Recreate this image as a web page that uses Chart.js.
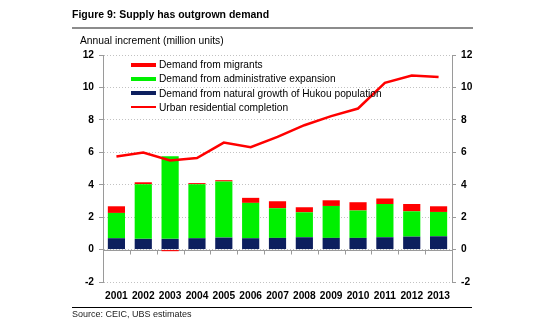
<!DOCTYPE html>
<html>
<head>
<meta charset="utf-8">
<script src="https://cdn.jsdelivr.net/npm/chart.js@4.4.1/dist/chart.umd.min.js"></script>
<style>
    html, body { margin: 0; padding: 0; background: #fff; }
    #figura { position: relative; width: 550px; height: 325px; overflow: hidden; font-family: "Liberation Sans", Arial, sans-serif; color: #000; }
    #figura canvas { position: absolute; left: 0; top: 0; }
    .titulo { position: absolute; left: 72px; top: 8px; font-size: 10.5px; line-height: 12px; font-weight: bold; white-space: nowrap; }
    .regua-topo { position: absolute; left: 72px; top: 27px; width: 401px; height: 2px; background: #8c8c8c; }
    .unidade { position: absolute; left: 80px; top: 34.5px; font-size: 10.3px; line-height: 12px; white-space: nowrap; }
    .regua-base { position: absolute; left: 72px; top: 307px; width: 400px; height: 1px; background: #000; }
    .fonte { position: absolute; left: 72px; top: 309px; font-family: "Liberation Sans Narrow", "Liberation Sans", sans-serif; font-size: 9px; line-height: 10px; color: #222; white-space: nowrap; }
    #legenda { position: absolute; left: 131px; top: 57.4px; }
    .item { display: flex; align-items: center; height: 14.3px; font-size: 10.2px; white-space: nowrap; }
    .amostra { width: 25px; margin-right: 3px; }
</style>
</head>
<body>
<div id="figura">
    <canvas id="graficoOferta" width="550" height="325"></canvas>
    <div class="titulo">Figure 9: Supply has outgrown demand</div>
    <div class="regua-topo"></div>
    <div class="unidade">Annual increment (million units)</div>
    <div id="legenda"></div>
    <div class="regua-base"></div>
    <div class="fonte">Source: CEIC, UBS estimates</div>
</div>
<script>
const anos = ["2001", "2002", "2003", "2004", "2005", "2006", "2007", "2008", "2009", "2010", "2011", "2012", "2013"];
const crescimentoNatural = [0.70, 0.66, 0.66, 0.70, 0.74, 0.70, 0.72, 0.76, 0.72, 0.72, 0.76, 0.80, 0.82];
const expansaoAdministrativa = [1.56, 3.37, 5.10, 3.33, 3.46, 2.18, 1.83, 1.54, 1.97, 1.69, 2.05, 1.56, 1.50];
const migrantes = [0.41, 0.12, -0.10, 0.07, 0.08, 0.31, 0.43, 0.31, 0.35, 0.51, 0.34, 0.45, 0.35];
const conclusoesUrbanas = [5.74, 5.99, 5.49, 5.65, 6.60, 6.31, 6.95, 7.67, 8.23, 8.70, 10.28, 10.74, 10.65];
const eixoMin = -2;
const eixoMax = 12;
const eixoPasso = 2;

const fonteEixo = { family: "'Liberation Sans', Arial, sans-serif", size: 10.2, weight: "bold" };
const cinzaEixo = "#9a9a9a";

// linha do zero com as marcas entre as categorias
const linhaZero = {
    id: "linhaZero",
    beforeDatasetsDraw(chart) {
        const { ctx, chartArea, scales } = chart;
        const y0 = Math.round(scales.y.getPixelForValue(0)) + 0.5;
        ctx.save();
        ctx.strokeStyle = cinzaEixo;
        ctx.lineWidth = 1;
        ctx.beginPath();
        ctx.moveTo(chartArea.left, y0);
        ctx.lineTo(chartArea.right, y0);
        for (let i = 1; i < anos.length; i++) {
            const xb = Math.round((scales.x.getPixelForTick(i - 1) + scales.x.getPixelForTick(i)) / 2) + 0.5;
            ctx.moveTo(xb, y0);
            ctx.lineTo(xb, y0 + 4);
        }
        ctx.stroke();
        ctx.restore();
    }
};

const grafico = new Chart(document.getElementById("graficoOferta"), {
    type: "bar",
    data: {
        labels: anos,
        datasets: [
            {
                label: "Demand from natural growth of Hukou population",
                data: crescimentoNatural,
                backgroundColor: "#0d1f5e",
                stack: "demanda",
                order: 2
            },
            {
                label: "Demand from administrative expansion",
                data: expansaoAdministrativa,
                backgroundColor: "#00f000",
                stack: "demanda",
                order: 2
            },
            {
                label: "Demand from migrants",
                data: migrantes,
                backgroundColor: "#ff0000",
                stack: "demanda",
                order: 2
            },
            {
                type: "line",
                label: "Urban residential completion",
                data: conclusoesUrbanas,
                borderColor: "#ff0000",
                borderWidth: 2.5,
                pointRadius: 0,
                tension: 0,
                stack: "conclusao",
                order: 1
            }
        ]
    },
    options: {
        responsive: false,
        animation: false,
        layout: { padding: { left: 72, right: 68, top: 55, bottom: 23 } },
        datasets: { bar: { categoryPercentage: 1, barPercentage: 0.64 } },
        scales: {
            x: {
                stacked: true,
                grid: { display: false },
                border: { display: false },
                ticks: { color: "#000", font: fonteEixo, padding: 0, maxRotation: 0, autoSkip: false },
                afterFit: (escala) => { escala.height = 20; }
            },
            y: {
                stacked: true,
                min: eixoMin,
                max: eixoMax,
                ticks: { stepSize: eixoPasso, color: "#000", font: fonteEixo, padding: 5 },
                grid: { color: "#c2c2c2", tickColor: cinzaEixo, tickLength: 4 },
                border: { color: cinzaEixo, width: 1, dash: [1, 2] },
                afterFit: (escala) => { escala.width = 31; }
            },
            y2: {
                position: "right",
                min: eixoMin,
                max: eixoMax,
                ticks: { stepSize: eixoPasso, color: "#000", font: fonteEixo, padding: 5 },
                grid: { drawOnChartArea: false, tickColor: cinzaEixo, tickLength: 4 },
                border: { color: cinzaEixo, width: 1 },
                afterFit: (escala) => { escala.width = 30; }
            }
        },
        plugins: {
            legend: { display: false },
            tooltip: { enabled: false }
        }
    },
    plugins: [linhaZero]
});

// legenda montada a partir dos datasets
const legenda = document.getElementById("legenda");
[2, 1, 0, 3].forEach((indice) => {
    const ds = grafico.data.datasets[indice];
    const item = document.createElement("div");
    item.className = "item";
    const amostra = document.createElement("span");
    amostra.className = "amostra";
    if (ds.type === "line") {
        amostra.style.height = "2px";
        amostra.style.background = ds.borderColor;
    } else {
        amostra.style.height = "4px";
        amostra.style.background = ds.backgroundColor;
    }
    const texto = document.createElement("span");
    texto.textContent = ds.label;
    item.appendChild(amostra);
    item.appendChild(texto);
    legenda.appendChild(item);
});
</script>
</body>
</html>
